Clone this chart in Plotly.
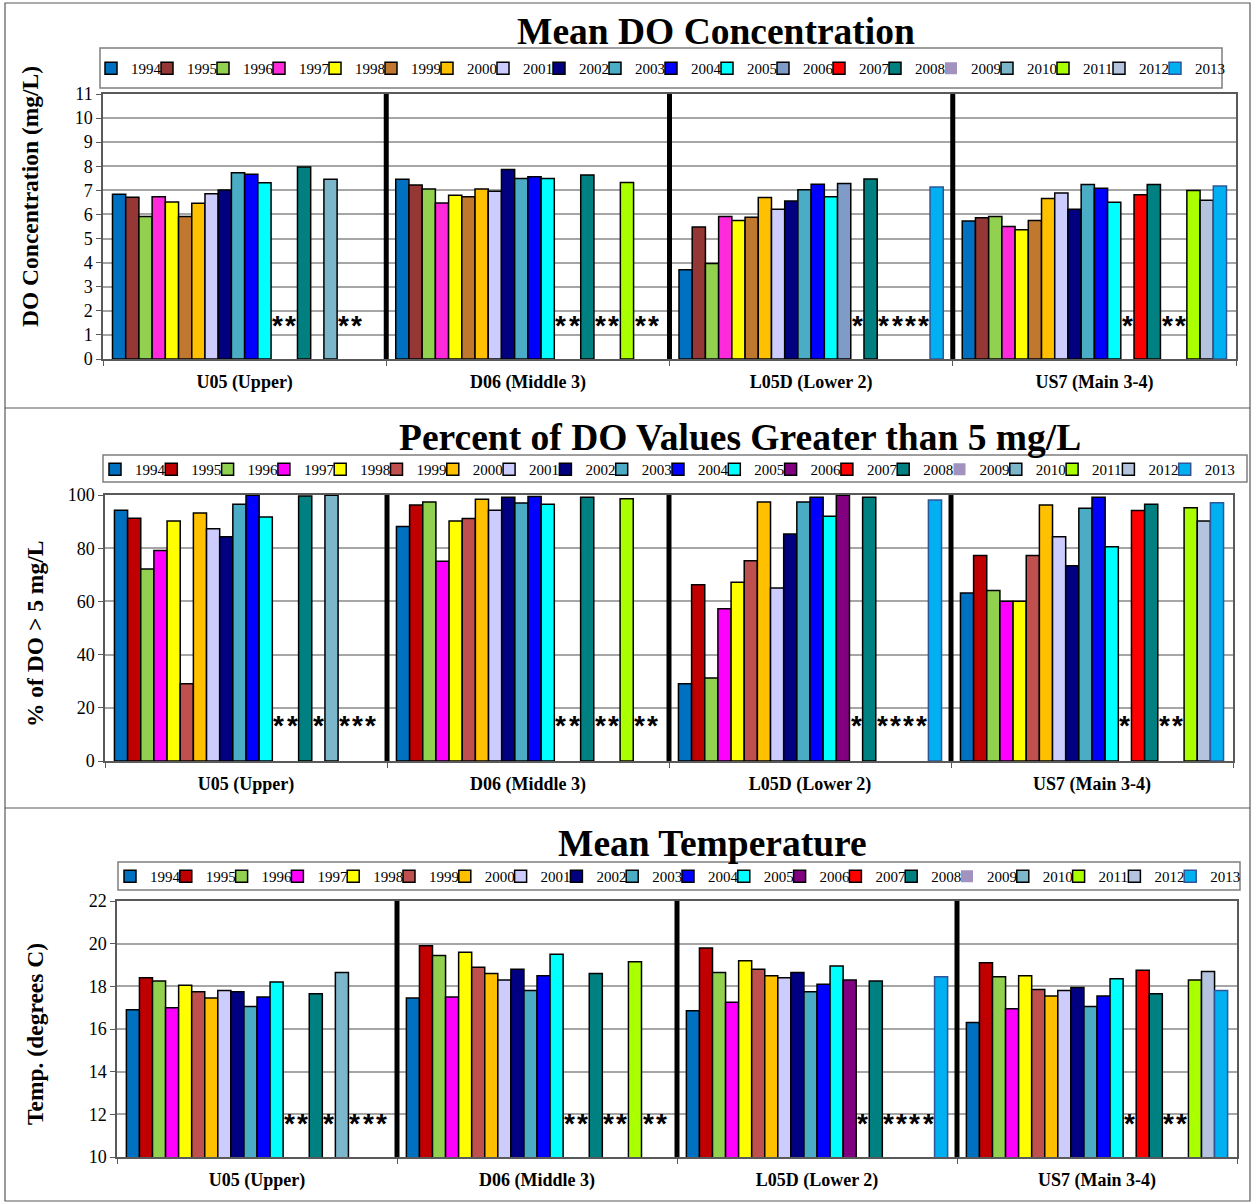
import plotly.graph_objects as go

W, H = 1251, 1202
SERIF = "Times New Roman, Liberation Serif, serif"

years = [str(y) for y in range(1994, 2014)]
sites = ["U05 (Upper)", "D06 (Middle 3)", "L05D (Lower 2)", "US7 (Main 3-4)"]

# ---- Mean DO concentration (mg/L), one value per year 1994..2013 ----
do_u05 = [6.84, 6.71, 5.91, 6.74, 6.52, 5.91, 6.46, 6.86, 7.02, 7.73, 7.67, 7.32,
          None, None, 7.97, None, 7.46, None, None, None]
do_d06 = [7.46, 7.22, 7.06, 6.48, 6.80, 6.74, 7.06, 6.96, 7.87, 7.49, 7.57, 7.49,
          None, None, 7.64, None, None, 7.33, None, None]
do_l05d = [3.70, 5.48, 3.96, 5.91, 5.75, 5.88, 6.70, 6.22, 6.56, 7.03, 7.25, 6.73,
           7.28, None, 7.47, None, None, None, None, 7.14]
do_us7 = [5.73, 5.86, 5.91, 5.50, 5.36, 5.75, 6.66, 6.89, 6.22, 7.24, 7.09, 6.51,
          None, 6.82, 7.24, None, None, 6.99, 6.59, 7.18]

# ---- Percent of DO values > 5 mg/L ----
pct_u05 = [94.3, 91.3, 72.2, 79.1, 90.2, 29.0, 93.2, 87.3, 84.3, 96.5, 99.9, 91.7,
           None, None, 99.6, None, 99.9, None, None, None]
pct_d06 = [88.2, 96.2, 97.4, 75.1, 90.2, 91.2, 98.4, 94.3, 99.2, 97.0, 99.4, 96.5,
           None, None, 99.2, None, None, 98.6, None, None]
pct_l05d = [29.0, 66.3, 31.2, 57.2, 67.2, 75.3, 97.4, 65.0, 85.3, 97.4, 99.2, 92.0,
            99.9, None, 99.2, None, None, None, None, 98.1]
pct_us7 = [63.2, 77.3, 64.1, 60.1, 60.1, 77.3, 96.2, 84.3, 73.4, 95.0, 99.2, 80.5,
           None, 94.2, 96.5, None, None, 95.2, 90.2, 97.1]

# ---- Mean temperature (degrees C) ----
tmp_u05 = [16.9, 18.4, 18.25, 17.0, 18.05, 17.75, 17.45, 17.8, 17.75, 17.05, 17.5, 18.2,
           None, None, 17.65, None, 18.65, None, None, None]
tmp_d06 = [17.45, 19.9, 19.45, 17.5, 19.6, 18.9, 18.6, 18.3, 18.8, 17.8, 18.5, 19.5,
           None, None, 18.6, None, None, 19.15, None, None]
tmp_l05d = [16.85, 19.8, 18.65, 17.25, 19.2, 18.8, 18.5, 18.4, 18.65, 17.75, 18.1, 18.95,
            18.3, None, 18.25, None, None, None, None, 18.45]
tmp_us7 = [16.3, 19.1, 18.45, 16.95, 18.5, 17.85, 17.55, 17.8, 17.95, 17.05, 17.55, 18.35,
           None, 18.75, 17.65, None, None, 18.3, 18.7, 17.8]

# ---- series colours ----
colors_do = ["#0070C0", "#953735", "#92D050", "#FF2AD9", "#FFFF00", "#C0782F", "#FFC000",
             "#CCCCFF", "#000080", "#4BACC6", "#0000FF", "#00FFFF", "#7F9BC7", "#FF0000",
             "#008080", "#A192C0", "#7BB6CB", "#AAFF00", "#B4C3DE", "#00B0F0"]
colors_pct = ["#0070C0", "#C00000", "#92D050", "#FF00FF", "#FFFF00", "#C0504D", "#FFC000",
              "#CCCCFF", "#000080", "#4BACC6", "#0000FF", "#00FFFF", "#800080", "#FF0000",
              "#008080", "#A192C0", "#7BB6CB", "#AAFF00", "#B4C3DE", "#00B0F0"]
colors_tmp = colors_pct

# ---- missing-data asterisks (series slot indices per site) ----
stars_do = {sites[0]: [12, 13, 17, 18], sites[1]: [12, 13, 15, 16, 18, 19],
            sites[2]: [13, 15, 16, 17, 18], sites[3]: [12, 15, 16]}
stars_pct = {sites[0]: [12, 13, 15, 17, 18, 19], sites[1]: [12, 13, 15, 16, 18, 19],
             sites[2]: [13, 15, 16, 17, 18], sites[3]: [12, 15, 16]}
stars_tmp = {sites[0]: [12, 13, 15, 17, 18, 19], sites[1]: [12, 13, 15, 16, 18, 19],
             sites[2]: [13, 15, 16, 17, 18], sites[3]: [12, 15, 16]}

BARGAP = 0.067


def px(x):
    return x / W


def py(y):
    return 1 - y / H


panels = [
    dict(vals=[do_u05, do_d06, do_l05d, do_us7], colors=colors_do, stars=stars_do, star_y=1.4,
         xpx=(103, 1236), ypx=(94, 359), yrange=[0, 11], dtick=1,
         title="Mean DO Concentration", title_xy=(716, 32),
         ytitle="DO Concentration (mg/L)", ytitle_xy=(30, 197),
         legend=dict(x=91, y=52, entry=11), lbox=(100, 48, 1222, 88)),
    dict(vals=[pct_u05, pct_d06, pct_l05d, pct_us7], colors=colors_pct, stars=stars_pct, star_y=13.5,
         xpx=(105, 1233), ypx=(495, 761), yrange=[0, 100], dtick=20,
         title="Percent of DO Values Greater than 5 mg/L", title_xy=(740, 437),
         ytitle="% of DO > 5 mg/L", ytitle_xy=(35, 634),
         legend=dict(x=95, y=453, entry=11.3), lbox=(103, 455, 1247, 482)),
    dict(vals=[tmp_u05, tmp_d06, tmp_l05d, tmp_us7], colors=colors_tmp, stars=stars_tmp, star_y=11.55,
         xpx=(117, 1237), ypx=(901, 1157), yrange=[10, 22], dtick=2,
         title="Mean Temperature", title_xy=(712, 843),
         ytitle="Temp. (degrees C)", ytitle_xy=(35, 1034),
         legend=dict(x=110, y=860, entry=10.8), lbox=(118, 862, 1240, 890)),
]

fig = go.Figure()
layout = dict(
    width=W, height=H, margin=dict(l=0, r=0, t=0, b=0, autoexpand=False),
    paper_bgcolor="white", plot_bgcolor="white",
    barmode="group", bargap=BARGAP, bargroupgap=0,
    font=dict(family=SERIF, color="black"),
    annotations=[], shapes=[],
)

for p, pan in enumerate(panels):
    sfx = "" if p == 0 else str(p + 1)
    xa, ya = "x" + sfx, "y" + sfx
    lg = "legend" + sfx
    for i, yr in enumerate(years):
        line_col = "black"
        line_w = 1.5
        if yr == "2009":
            line_w = 0
        if yr == "2013":
            line_col = "#2F5597"
        fig.add_trace(go.Bar(
            x=sites, y=[pan["vals"][c][i] for c in range(4)], name=yr,
            marker=dict(color=pan["colors"][i], line=dict(color=line_col, width=line_w)),
            xaxis=xa, yaxis=ya, legend=lg, showlegend=True,
        ))
    # empty trailing legend slot so the last label is not clipped
    fig.add_trace(go.Scatter(
        x=[None], y=[None], mode="markers", name=" ",
        marker=dict(color="rgba(0,0,0,0)", size=1), xaxis=xa, yaxis=ya,
        legend=lg, showlegend=True, hoverinfo="skip"))
    x0, x1 = pan["xpx"]
    y0, y1 = pan["ypx"]
    layout["xaxis" + sfx] = dict(
        domain=[px(x0), px(x1)], anchor=ya, type="category",
        showline=True, linecolor="#595959", linewidth=1.5, mirror=True,
        ticks="outside", ticklen=5, tickcolor="#595959", tickson="boundaries",
        tickfont=dict(family=SERIF, size=18, weight="bold"), ticklabelstandoff=6,
        showgrid=False, fixedrange=True,
    )
    layout["yaxis" + sfx] = dict(
        domain=[py(y1), py(y0)], anchor=xa, range=pan["yrange"], dtick=pan["dtick"],
        showline=True, linecolor="#595959", linewidth=1.5, mirror=True,
        ticks="outside", ticklen=5, tickcolor="#595959",
        showgrid=True, gridcolor="#A6A6A6", gridwidth=1.5,
        tickfont=dict(family=SERIF, size=18), zeroline=False, fixedrange=True,
    )
    lgd = pan["legend"]
    layout[lg] = dict(
        orientation="h", x=px(lgd["x"]), y=py(lgd["y"]), xanchor="left", yanchor="top",
        borderwidth=0, bgcolor="rgba(0,0,0,0)",
        font=dict(family=SERIF, size=15), entrywidth=lgd["entry"], entrywidthmode="pixels",
        itemwidth=30, traceorder="normal",
    )
    bx0, by0, bx1, by1 = pan["lbox"]
    layout["shapes"].append(dict(type="rect", xref="paper", yref="paper", layer="below",
                                 x0=px(bx0), x1=px(bx1), y0=py(by1), y1=py(by0),
                                 line=dict(color="#7F7F7F", width=1.5), fillcolor="white"))
    # title & y-axis title
    tx, ty = pan["title_xy"]
    layout["annotations"].append(dict(
        text="<b>%s</b>" % pan["title"], x=px(tx), y=py(ty), xref="paper", yref="paper",
        showarrow=False, xanchor="center", yanchor="middle",
        font=dict(family=SERIF, size=37.5, color="black")))
    ax, ay = pan["ytitle_xy"]
    layout["annotations"].append(dict(
        text="<b>%s</b>" % pan["ytitle"], x=px(ax), y=py(ay), xref="paper", yref="paper",
        showarrow=False, xanchor="center", yanchor="middle", textangle=-90,
        font=dict(family=SERIF, size=23.5, color="black")))
    # missing-data asterisks
    cat_w = (x1 - x0) / 4.0
    slot_w = cat_w * (1 - BARGAP) / 20.0
    for site, slots in pan["stars"].items():
        for s in slots:
            layout["annotations"].append(dict(
                text="<b>*</b>", x=site, y=pan["star_y"], xref=xa, yref=ya,
                xshift=(s - 9.5) * slot_w, showarrow=False,
                xanchor="center", yanchor="middle",
                font=dict(family="Liberation Sans, Arial, sans-serif", size=28, color="black")))
    # thick dividers between sites
    for f in (0.25, 0.5, 0.75):
        layout["shapes"].append(dict(
            type="line", xref=xa + " domain", yref=ya + " domain",
            x0=f, x1=f, y0=0, y1=1, line=dict(color="black", width=5)))

# outer frame and panel separators
layout["shapes"].append(dict(type="rect", xref="paper", yref="paper", layer="below",
                             x0=px(5), x1=px(1250), y0=py(1201), y1=py(3),
                             line=dict(color="#595959", width=1.2)))
for sep in (408, 808):
    layout["shapes"].append(dict(type="line", xref="paper", yref="paper",
                                 x0=px(5), x1=px(1250), y0=py(sep), y1=py(sep),
                                 line=dict(color="#595959", width=1.2)))

fig.update_layout(**layout)
fig.write_html(
    "out.html",
    config={"responsive": False, "displayModeBar": False},
    post_script="document.body.style.margin='0px';document.body.style.overflow='hidden';",
)
